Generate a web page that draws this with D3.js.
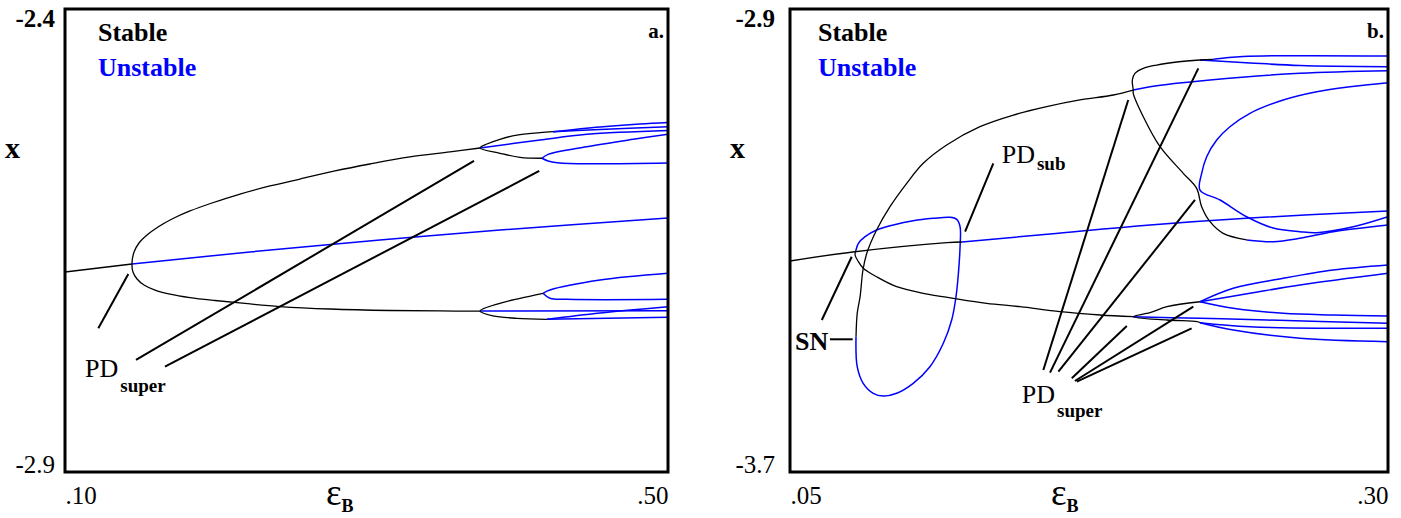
<!DOCTYPE html>
<html><head><meta charset="utf-8">
<script src="https://cdn.jsdelivr.net/npm/d3@7"></script>
<style>
body{margin:0;background:#fff}
svg{display:block}
text{font-family:"Liberation Serif","Times New Roman",serif}
</style>
</head><body>
<svg id="c" width="1401" height="518"></svg>
<script>
// ---------- Panel a data (epsilon_B, x) ----------
const aXTicks = [0.10, 0.50];
const aYTicks = [-2.9, -2.4];
const aStable = [
  [[0.100,-2.6840],[0.1444,-2.6754]],
  [[0.3753,-2.7262],[0.3487,-2.7261],[0.3156,-2.7256],[0.2758,-2.7240],[0.2426,-2.7213],[0.2194,-2.7180],[0.1995,-2.7148],[0.1829,-2.7116],[0.1696,-2.7078],[0.1597,-2.7035],[0.1524,-2.6981],[0.1478,-2.6916],[0.1451,-2.6840],[0.1444,-2.6754],[0.1458,-2.6624],[0.1491,-2.6527],[0.1544,-2.6441],[0.1617,-2.6354],[0.1710,-2.6268],[0.1829,-2.6181],[0.1975,-2.6095],[0.2161,-2.5998],[0.2360,-2.5911],[0.2559,-2.5836],[0.2791,-2.5749],[0.3023,-2.5674],[0.3288,-2.5598],[0.3554,-2.5544],[0.3753,-2.5501]],
  [[0.4237,-2.5325],[0.4151,-2.5336],[0.3998,-2.5361],[0.3885,-2.5407],[0.3799,-2.5458],[0.3753,-2.5501],[0.3885,-2.5558],[0.4018,-2.5602],[0.4164,-2.5612]],
  [[0.4171,-2.7070],[0.4018,-2.7124],[0.3885,-2.7178],[0.3753,-2.7262],[0.3839,-2.7315],[0.3998,-2.7340],[0.4197,-2.7351]]
];
const aUnstable = [
  [[0.1444,-2.6754],[0.2227,-2.6624],[0.3089,-2.6495],[0.3885,-2.6387],[0.5000,-2.6257]],
  [[0.3753,-2.5501],[0.4151,-2.5415],[0.4462,-2.5353],[0.5000,-2.5312]],
  [[0.3753,-2.7262],[0.5000,-2.7258]],
  [[0.4237,-2.5325],[0.4549,-2.5274],[0.4814,-2.5242],[0.5000,-2.5226]],
  [[0.4237,-2.5325],[0.4549,-2.5301],[0.5000,-2.5271]],
  [[0.4164,-2.5612],[0.4205,-2.5570],[0.4460,-2.5487],[0.4770,-2.5407],[0.5000,-2.5353]],
  [[0.4164,-2.5612],[0.4204,-2.5641],[0.4283,-2.5663],[0.5000,-2.5663]],
  [[0.4171,-2.7070],[0.4217,-2.7035],[0.4549,-2.6927],[0.5000,-2.6854]],
  [[0.4171,-2.7070],[0.4217,-2.7124],[0.4330,-2.7135],[0.5000,-2.7135]],
  [[0.4197,-2.7351],[0.5000,-2.7329]],
  [[0.4197,-2.7351],[0.4549,-2.7283],[0.5000,-2.7215]]
];
const aPointers = [
  [[0.1221,-2.7448],[0.1420,-2.6862]],
  [[0.1471,-2.7790],[0.3713,-2.5641]],
  [[0.1663,-2.7863],[0.4146,-2.5749]]
];
const aLabels = [
  {main:"PD", sub:"super", at:[0.1133,-2.7974], subDy:15, mainBold:false}
];

// ---------- Panel b data ----------
const bXTicks = [0.05, 0.30];
const bYTicks = [-3.7, -2.9];
const bStable = [
  [[0.0500,-3.3354],[0.0763,-3.3199],[0.1156,-3.3038],[0.1219,-3.3026]],
  [[0.0776,-3.3164],[0.0772,-3.3251],[0.0786,-3.3366],[0.0806,-3.3480],[0.0862,-3.3626],[0.0946,-3.3798],[0.1057,-3.3912],[0.1183,-3.3999],[0.1322,-3.4085],[0.1462,-3.4144],[0.1629,-3.4230],[0.1796,-3.4287],[0.1934,-3.4317]],
  [[0.0776,-3.4662],[0.0781,-3.4258],[0.0793,-3.3971],[0.0805,-3.3510],[0.0821,-3.3221],[0.0862,-3.2819],[0.0918,-3.2416],[0.0988,-3.2012],[0.1057,-3.1666],[0.1155,-3.1350],[0.1294,-3.1034],[0.1434,-3.0832],[0.1573,-3.0688],[0.1712,-3.0572],[0.1852,-3.0486],[0.1935,-3.0400]],
  [[0.2270,-2.9869],[0.2214,-2.9881],[0.2117,-2.9916],[0.2033,-2.9968],[0.1977,-3.0025],[0.1942,-3.0111],[0.1931,-3.0227],[0.1935,-3.0400],[0.1935,-3.0457],[0.1977,-3.0861],[0.2047,-3.1379],[0.2144,-3.1839],[0.2200,-3.2100],[0.2221,-3.2416],[0.2256,-3.2675],[0.2311,-3.2876],[0.2409,-3.2991]],
  [[0.2214,-3.4058],[0.2076,-3.4144],[0.2005,-3.4248],[0.1934,-3.4317],[0.2076,-3.4374],[0.2202,-3.4403],[0.2214,-3.4420]]
];
const bUnstable = [
  [[0.1219,-3.3026],[0.1587,-3.2888],[0.2005,-3.2732],[0.2423,-3.2611],[0.3000,-3.2490]],
  [[0.0776,-3.4662],[0.0781,-3.5181],[0.0806,-3.5468],[0.0848,-3.5640],[0.0890,-3.5687],[0.0946,-3.5640],[0.1015,-3.5468],[0.1085,-3.5181],[0.1141,-3.4776],[0.1176,-3.4374],[0.1194,-3.3971],[0.1204,-3.3567],[0.1211,-3.3107],[0.1211,-3.2762],[0.1197,-3.2634],[0.1169,-3.2599],[0.1099,-3.2617],[0.1015,-3.2658],[0.0932,-3.2732],[0.0862,-3.2819],[0.0814,-3.2934],[0.0786,-3.3049],[0.0776,-3.3164]],
  [[0.1935,-3.0400],[0.2005,-3.0343],[0.2256,-3.0227],[0.2632,-3.0111],[0.3000,-3.0066]],
  [[0.2270,-2.9869],[0.2394,-2.9821],[0.3000,-2.9812]],
  [[0.2214,-2.9881],[0.2423,-2.9933],[0.2632,-2.9976],[0.3000,-2.9997]],
  [[0.3000,-3.0273],[0.2841,-3.0343],[0.2702,-3.0429],[0.2562,-3.0572],[0.2423,-3.0802],[0.2339,-3.1034],[0.2284,-3.1264],[0.2242,-3.1552],[0.2221,-3.1839],[0.2214,-3.2128],[0.2298,-3.2300],[0.2409,-3.2589],[0.2520,-3.2784],[0.2632,-3.2848],[0.2702,-3.2865],[0.2855,-3.2762],[0.3000,-3.2589]],
  [[0.2409,-3.2991],[0.2520,-3.3021],[0.2632,-3.2962],[0.2771,-3.2848],[0.3000,-3.2732]],
  [[0.1934,-3.4317],[0.2214,-3.4344],[0.2494,-3.4374],[0.3000,-3.4431]],
  [[0.2214,-3.4058],[0.2353,-3.3826],[0.2562,-3.3653],[0.2771,-3.3510],[0.3000,-3.3423]],
  [[0.2214,-3.4058],[0.2423,-3.3912],[0.2632,-3.3769],[0.3000,-3.3567]],
  [[0.2214,-3.4058],[0.2353,-3.4172],[0.2562,-3.4258],[0.2771,-3.4287],[0.3000,-3.4305]],
  [[0.2214,-3.4420],[0.2423,-3.4490],[0.3000,-3.4517]],
  [[0.2214,-3.4420],[0.2353,-3.4547],[0.2632,-3.4690],[0.3000,-3.4749]]
];
const bPointers = [
  [[0.0667,-3.4707],[0.0762,-3.4707]],
  [[0.0633,-3.4374],[0.0758,-3.3280]],
  [[0.1350,-3.1666],[0.1232,-3.2848]],
  [[0.1559,-3.5238],[0.1914,-3.0572]],
  [[0.1587,-3.5284],[0.2207,-3.0025]],
  [[0.1622,-3.5267],[0.2193,-3.2300]],
  [[0.1678,-3.5381],[0.1908,-3.4477]],
  [[0.1691,-3.5428],[0.2186,-3.4144]],
  [[0.1699,-3.5440],[0.2179,-3.4517]]
];
const bLabels = [
  {main:"SN", sub:"", at:[0.0521,-3.4892], subDy:0, mainBold:true},
  {main:"PD", sub:"sub", at:[0.1385,-3.1666], subDy:7, mainBold:false},
  {main:"PD", sub:"super", at:[0.1469,-3.5813], subDy:14, mainBold:false}
];

const legendItems = ["Stable", "Unstable"];
const panelTags = ["a.", "b."];

const svg = d3.select("#c");
const STABLE = "#000000", UNSTABLE = "#0000ff";

function drawPanel(cfg, idx) {
  const x = d3.scaleLinear().domain([cfg.xTicks[0], cfg.xTicks[1]]).range([cfg.left, cfg.right]);
  const y = d3.scaleLinear().domain([cfg.yTicks[0], cfg.yTicks[1]]).range([cfg.bottom, cfg.top]);
  const g = svg.append("g");
  const clipId = "clip" + idx;
  svg.append("clipPath").attr("id", clipId).append("rect")
    .attr("x", cfg.left).attr("y", cfg.top).attr("width", cfg.right - cfg.left).attr("height", cfg.bottom - cfg.top);
  const line = d3.line().x(d => x(d[0])).y(d => y(d[1])).curve(d3.curveCatmullRom.alpha(0.5));
  const straight = d3.line().x(d => x(d[0])).y(d => y(d[1]));
  const plot = g.append("g").attr("clip-path", `url(#${clipId})`);
  plot.selectAll("path.u").data(cfg.unstable).join("path").attr("class","u")
    .attr("d", line).attr("fill","none").attr("stroke", UNSTABLE).attr("stroke-width", 1.5);
  plot.selectAll("path.s").data(cfg.stable).join("path").attr("class","s")
    .attr("d", line).attr("fill","none").attr("stroke", STABLE).attr("stroke-width", 1.3);
  plot.selectAll("path.p").data(cfg.pointers).join("path").attr("class","p")
    .attr("d", straight).attr("fill","none").attr("stroke", "#000").attr("stroke-width", 2);

  // frame
  g.append("rect").attr("x", cfg.left).attr("y", cfg.top)
    .attr("width", cfg.right - cfg.left).attr("height", cfg.bottom - cfg.top)
    .attr("fill","none").attr("stroke","#000").attr("stroke-width",3);

  // x axis
  const fmtX = d => d3.format(".2f")(d).replace(/^0/, "");
  const xa = g.append("g").attr("transform", `translate(0,${cfg.bottom})`)
    .call(d3.axisBottom(x).tickValues(cfg.xTicks).tickSize(0).tickPadding(14).tickFormat(fmtX));
  xa.select(".domain").remove();
  xa.selectAll("text").attr("font-family", "Liberation Serif").attr("font-size", 25).attr("fill","#000")
    .attr("text-anchor", (d,i) => i === 0 ? "start" : "end");

  // y axis
  const fmtY = d => d3.format(".1f")(d).replace("\u2212", "-");
  const ya = g.append("g").attr("transform", `translate(${cfg.left},0)`)
    .call(d3.axisLeft(y).tickValues(cfg.yTicks).tickSize(0).tickPadding(cfg.yPad).tickFormat(fmtY));
  ya.select(".domain").remove();
  ya.selectAll("text").attr("font-family", "Liberation Serif").attr("font-size", 25).attr("fill","#000")
    .attr("font-weight", (d,i) => i === 1 ? "bold" : "normal")
    .attr("dy", (d,i) => i === 1 ? "0.71em" : "0");

  // axis titles
  const xt = g.append("text").attr("x", cfg.left + 261).attr("y", cfg.bottom + 33)
    .attr("font-size", 37).attr("fill","#000");
  xt.append("tspan").text("\u03b5");
  xt.append("tspan").attr("font-size", 18).attr("font-weight","bold").attr("dy", 7).text("B");
  g.append("text").attr("x", cfg.left - 60).attr("y", 158).attr("font-size", 30)
    .attr("font-weight","bold").attr("fill","#000").text("x");

  // legend
  g.selectAll("text.leg").data(legendItems).join("text").attr("class","leg")
    .attr("x", cfg.left + cfg.legDx).attr("y", (d,i) => 41 + i*35)
    .attr("font-size", 26).attr("font-weight","bold")
    .attr("fill", (d,i) => i === 0 ? STABLE : UNSTABLE).text(d => d);

  // panel tag
  g.append("text").attr("x", cfg.right - 4).attr("y", 38).attr("text-anchor","end")
    .attr("font-size", 21).attr("font-weight","bold").attr("fill","#000").text(panelTags[idx]);

  // annotation labels
  cfg.labels.forEach(l => {
    const t = g.append("text").attr("x", x(l.at[0])).attr("y", y(l.at[1])).attr("fill","#000");
    t.append("tspan").attr("font-size", 26).attr("font-weight", l.mainBold ? "bold" : "normal").text(l.main);
    if (l.sub) t.append("tspan").attr("dx", 2).attr("dy", l.subDy).attr("font-size", 19)
      .attr("font-weight","bold").text(l.sub);
  });
}

drawPanel({left:65, right:668, top:9, bottom:472, xTicks:aXTicks, yTicks:aYTicks, yPad:10, legDx:33,
  stable:aStable, unstable:aUnstable, pointers:aPointers, labels:aLabels}, 0);
drawPanel({left:790, right:1388, top:9, bottom:472, xTicks:bXTicks, yTicks:bYTicks, yPad:15, legDx:28,
  stable:bStable, unstable:bUnstable, pointers:bPointers, labels:bLabels}, 1);
</script>
</body></html>
